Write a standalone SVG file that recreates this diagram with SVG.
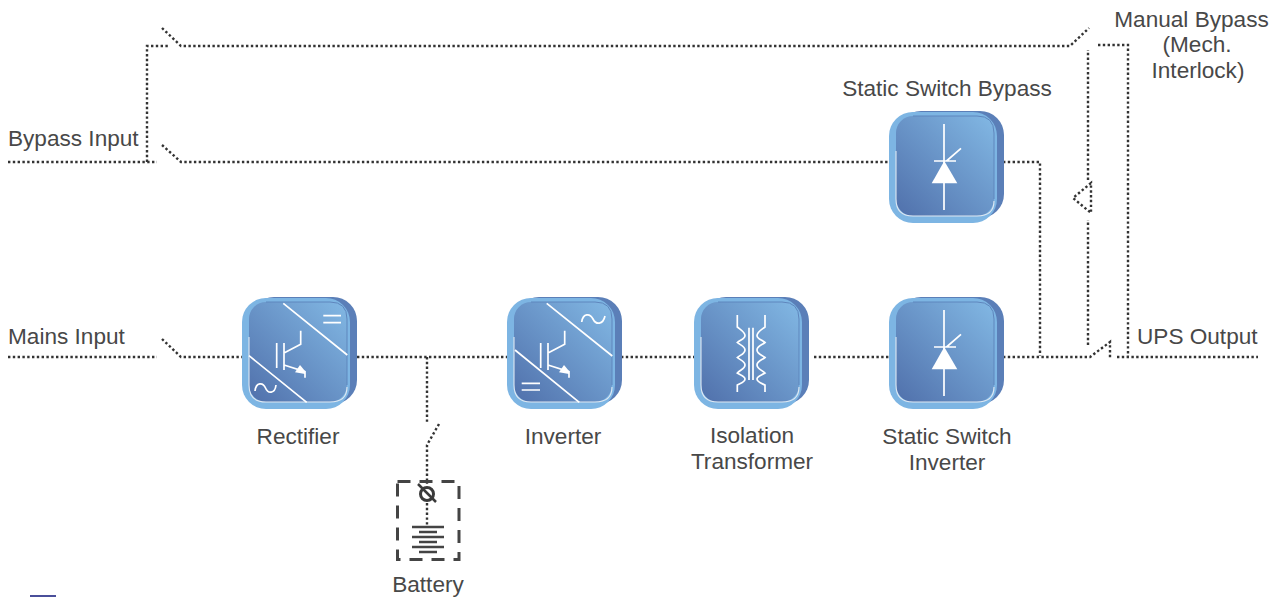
<svg xmlns="http://www.w3.org/2000/svg" xmlns:xlink="http://www.w3.org/1999/xlink" width="1278" height="597" viewBox="0 0 1278 597">
<style>
text{font-family:"Liberation Sans",Arial,sans-serif;font-size:22.6px;fill:#484848}
.m{text-anchor:middle}
.d{fill:none;stroke:#333;stroke-width:2.4;stroke-dasharray:2.4 2.4}
.w{fill:none;stroke:#fff;stroke-width:1.7}
.wf{fill:#fff;stroke:none}
.b{fill:none;stroke:#444;stroke-width:2.6}
</style>
<defs>
<linearGradient id="g" x1="0" y1="1" x2="1" y2="0"><stop offset="0" stop-color="#5070ab"/><stop offset="1" stop-color="#82b8e4"/></linearGradient>
<g id="tile">
<rect x="8" y="0" width="107" height="107" rx="24" fill="#5b7fb8"/>
<rect x="0" y="1" width="108" height="111" rx="24" fill="#7db5e3"/>
<rect x="7" y="5" width="98" height="100" rx="17" fill="url(#g)"/>
<path d="M24 5H88Q105 5 105 22V88" fill="none" stroke="#5f86bd" stroke-width="1"/>
<path d="M7 40V88Q7 105 24 105H88Q105 105 105 90" fill="none" stroke="#dfe8f2" stroke-width="1.1"/>
</g>
<g id="igbt">
<path class="w" d="M276.7 343V368M284 343V370M284 353L300.7 344.3V330.7M284 365L305 371.7V377.7"/>
<polygon class="wf" points="295,372.3 300,365 305,371 305,374"/>
</g>
<g id="diode">
<path class="w" d="M55 13V99M45 50H67M57.500 50L72 37.300"/>
<polygon class="wf" points="42.700,72.300 68.300,72.300 55.300,50"/>
</g>
</defs>

<g id="connectors">
<path class="d" d="M8 162H157"/>
<path class="d" d="M147 162V46H168"/>
<path class="d" d="M162 28L181 46H1070L1089 28"/>
<path class="d" d="M162 145L181 162H890"/>
<path class="d" d="M1003 162H1040V356"/>
<path class="d" d="M8 357H157"/>
<path class="d" d="M162 339L181 357H242"/>
<path class="d" d="M357 357H507"/>
<path class="d" d="M621 357H694"/>
<path class="d" d="M814 357H889"/>
<path class="d" d="M1003 357H1090L1110 342V358"/>
<path class="d" d="M1117 357H1258"/>
<path class="d" d="M1088 345V220"/>
<path class="d" d="M1088 180V50"/>
<path class="d" d="M1091 183L1073 198L1091 213Z"/>
<path class="d" d="M1098 45H1128V356"/>
<path class="d" d="M427 357V422"/>
<path class="d" d="M439 424L427 445V484"/>
<path class="d" d="M427 503V527"/>
</g>

<g id="rectifier">
<use xlink:href="#tile" href="#tile" x="242" y="297"/>
<use xlink:href="#igbt" href="#igbt"/>
<path class="w" d="M283.300 303.300L347.300 355M249 355.700L306.700 402.300M323.300 315.700H341M323.300 322.700H341"/>
<path class="w" d="M255 391C256 382 263 382 265.500 388C268 394 275 394 276 385"/>
<text class="m" x="298" y="443.500">Rectifier</text>
</g>

<g id="inverter">
<use xlink:href="#tile" href="#tile" x="507" y="297"/>
<use xlink:href="#igbt" href="#igbt" x="264"/>
<path class="w" d="M546.700 303.300L612.300 356M515 350L579.300 402.300M521.700 383.300H540M521.700 390H540"/>
<path class="w" d="M581.700 322C583 313 590 313 593 319C596 325 603 325 605 316"/>
<text class="m" x="563" y="443.500">Inverter</text>
</g>

<g id="isolation-transformer">
<use xlink:href="#tile" href="#tile" x="694" y="297"/>
<path class="w" d="M749 327.700V380M753 327.700V380"/>
<path class="w" d="M737.300 315V327C741 330 745 332 745 335.500C745 339 740 340 737.300 342.500C740 345 745 346 745 350C745 354 740 355 737.300 357.500C740 360 745 361 745 365C745 369 740 370 737.300 373C740 375 745 376 745 379C745 382 741 383 737.300 385V392"/>
<path class="w" d="M765 315V327C761 330 757 332 757 335.500C757 339 762 340 765 342.500C762 345 757 346 757 350C757 354 762 355 765 357.500C762 360 757 361 757 365C757 369 762 370 765 373C762 375 757 376 757 379C757 382 761 383 765 385V392"/>
<text class="m" x="752" y="443">Isolation</text>
<text class="m" x="752" y="469">Transformer</text>
</g>

<g id="static-switch-inverter">
<use xlink:href="#tile" href="#tile" x="889" y="297"/>
<use xlink:href="#diode" href="#diode" x="889" y="297"/>
<text class="m" x="947" y="444">Static Switch</text>
<text class="m" x="947" y="470">Inverter</text>
</g>

<g id="static-switch-bypass">
<use xlink:href="#tile" href="#tile" x="889" y="111"/>
<use xlink:href="#diode" href="#diode" x="889" y="111"/>
<text class="m" x="947" y="95.500">Static Switch Bypass</text>
</g>

<g id="battery">
<rect x="397.500" y="481.500" width="61.500" height="78" fill="none" stroke="#444" stroke-width="3" stroke-dasharray="13 9"/>
<circle cx="427" cy="494" r="6.500" fill="none" stroke="#3a3a3a" stroke-width="3"/>
<path d="M418 484L436 502" stroke="#3a3a3a" stroke-width="2.500"/>
<path class="b" d="M412 527H444M419 532H437M412 537H444M419 542H437M412 547H444M419 552H437"/>
<text class="m" x="428" y="592">Battery</text>
</g>

<g id="labels">
<text x="8" y="145.500">Bypass Input</text>
<text x="8" y="343.500">Mains Input</text>
<text x="1137" y="343.500">UPS Output</text>
<text class="m" x="1191.500" y="26.500">Manual Bypass</text>
<text class="m" x="1197" y="52">(Mech.</text>
<text class="m" x="1198" y="77.500">Interlock)</text>
</g>
<rect x="30" y="595" width="26" height="2" fill="#4a4f9a"/>
</svg>
